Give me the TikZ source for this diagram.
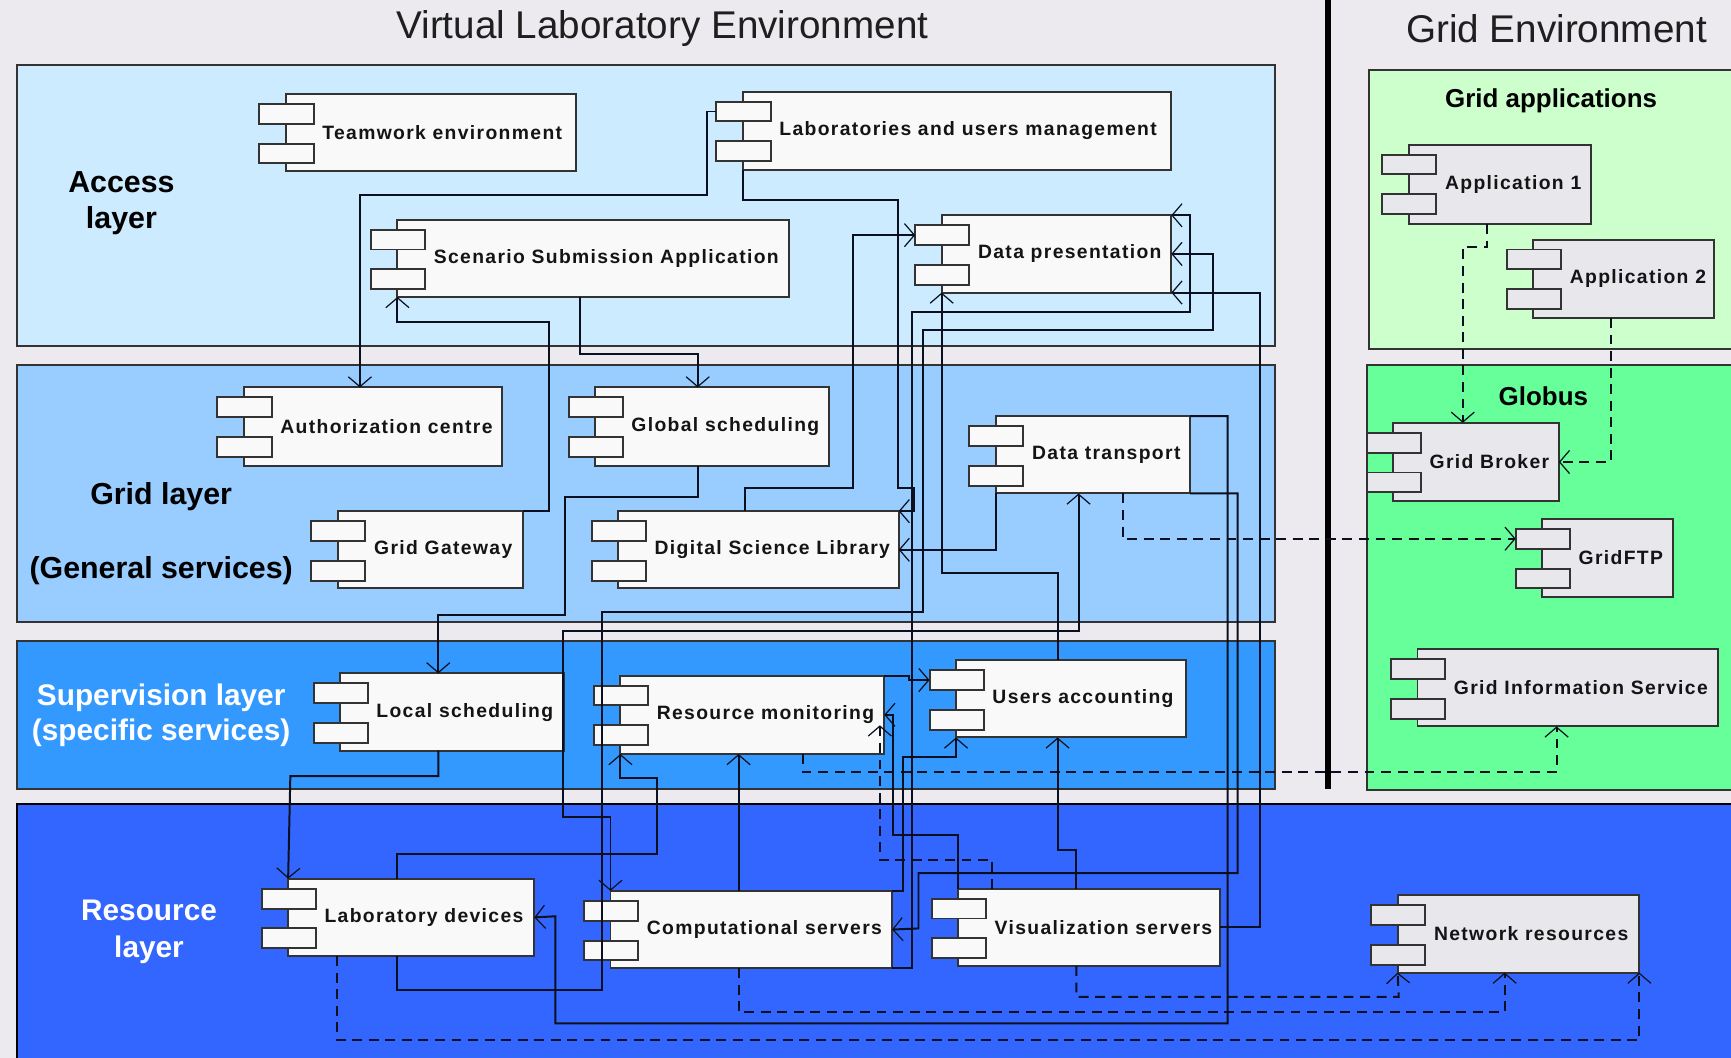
\documentclass[tikz,border=0pt]{standalone}
\usepackage{fontspec}
\setmainfont{Liberation Sans}
\newfontfamily\cfont[LetterSpace=7]{Liberation Sans}
\usetikzlibrary{arrows.meta}
\definecolor{bgc}{HTML}{ECEAEE}
\definecolor{accessc}{HTML}{CCEBFF}
\definecolor{gridc}{HTML}{99CCFF}
\definecolor{supc}{HTML}{3399FF}
\definecolor{resc}{HTML}{3366FF}
\definecolor{gappc}{HTML}{CCFFCC}
\definecolor{globc}{HTML}{66FF99}
\definecolor{boxw}{HTML}{F9F9F9}
\definecolor{boxg}{HTML}{E8E8EC}
\definecolor{edgec}{HTML}{333333}
\definecolor{linec}{HTML}{0A1020}
\tikzset{
  >={Straight Barb[length=9pt,width=21pt,line width=1.1pt]},
  layer/.style={draw=edgec,line width=1.8pt,inner sep=0pt,outer sep=0pt},
  cbody/.style={draw=edgec,line width=1.8pt,inner sep=0pt,outer sep=0pt},
  ctab/.style={draw=edgec,line width=1.8pt,inner sep=0pt,outer sep=0pt,minimum width=49pt,minimum height=18pt},
  clabel/.style={inner sep=0pt,outer sep=0pt,text=black!92,font=\cfont\bfseries\fontsize{17.5}{20}\selectfont},
  llabel/.style={inner sep=0pt,align=center,font=\bfseries\fontsize{27.5}{33}\selectfont},
  conn/.style={draw=linec,line width=1.8pt,->},
  dconn/.style={conn,dash pattern=on 9pt off 6pt},
}
\newcommand\comp[7]{%
  \node[cbody,fill=#7,minimum width={#4-#2},minimum height={#5-#3},anchor=north west] (#1) at (#2,#3) {};
  \node[ctab,fill=#7,anchor=north west] (#1t1) at ({#2-24},{#3+9}) {};
  \node[ctab,fill=#7,anchor=north west] (#1t2) at ({#2-24},{#3+45}) {};
  \node[clabel,anchor=west] (#1l) at ({#2+33},{(#3+#5)/2}) {#6};
}
\begin{document}
\begin{tikzpicture}[x=1pt,y=-1pt]
\useasboundingbox (0,0) rectangle (1568,958);
\fill[bgc] (0,0) rectangle (1568,958);
% titles
\node[font=\fontsize{35}{40}\selectfont,text=black!88] (t1) at (600,26) {Virtual Laboratory Environment};
\node[font=\fontsize{35}{40}\selectfont,text=black!88] (t2) at (1410,26) {Grid Environment};
% layers
\node[layer,fill=accessc,minimum width=1140,minimum height=254,anchor=north west] (Lacc) at (15,59) {};
\node[layer,fill=gridc,minimum width=1140,minimum height=232,anchor=north west] (Lgrid) at (15,331) {};
\node[layer,fill=supc,minimum width=1140,minimum height=134,anchor=north west] (Lsup) at (15,581) {};
\node[layer,draw=black,fill=resc,minimum width=1570,minimum height=240,anchor=north west] (Lres) at (15,728) {};
\node[layer,fill=gappc,minimum width=340,minimum height=253,anchor=north west] (Lgapp) at (1240,63) {};
\node[layer,fill=globc,minimum width=340,minimum height=385,anchor=north west] (Lglob) at (1238,331) {};
\draw[black,line width=5pt] (1203,0) -- (1203,715);
% layer labels
\node[llabel] (la1) at (110,184) {Access\\layer};
\node[llabel] (la2) at (146,450) {Grid layer};
\node[llabel] (la3) at (146,517) {(General services)};
\node[llabel,text=white,font=\bfseries\fontsize{27}{32}\selectfont] (la4) at (146,632) {Supervision layer};
\node[llabel,text=white,font=\bfseries\fontsize{27}{32}\selectfont] (la5) at (146,664) {(specific services)};
\node[llabel,text=white,font=\bfseries\fontsize{27}{33}\selectfont] (la6) at (135,844) {Resource\\layer};
\node[llabel,font=\bfseries\fontsize{23.5}{28}\selectfont] (la7) at (1405,91) {Grid applications};
\node[llabel,font=\bfseries\fontsize{23.5}{28}\selectfont] (la8) at (1398,359) {Globus};
% components
\comp{team}{259}{85}{522}{155}{Teamwork environment}{boxw}
\comp{lab}{673}{83}{1061}{154}{Laboratories and users management}{boxw}
\comp{scen}{360}{199}{715}{269}{Scenario Submission Application}{boxw}
\comp{dp}{853}{195}{1061}{265}{Data presentation}{boxw}
\comp{auth}{221}{351}{455}{422}{Authorization centre}{boxw}
\comp{gsch}{539}{351}{751}{422}{Global scheduling}{boxw}
\comp{dt}{902}{377}{1078}{447}{Data transport}{boxw}
\comp{gw}{306}{463}{474}{533}{Grid Gateway}{boxw}
\comp{dsl}{560}{463}{814}{533}{Digital Science Library}{boxw}
\comp{lsch}{308}{610}{511}{680}{Local scheduling}{boxw}
\comp{rmon}{562}{612}{801}{683}{Resource monitoring}{boxw}
\comp{uacc}{866}{598}{1074}{668}{Users accounting}{boxw}
\comp{ldev}{261}{796}{484}{866}{Laboratory devices}{boxw}
\comp{csrv}{553}{807}{808}{877}{Computational servers}{boxw}
\comp{vsrv}{868}{805}{1105}{875}{Visualization servers}{boxw}
\comp{nres}{1266}{811}{1485}{881}{Network resources}{boxg}
\comp{app1}{1276}{131}{1441}{203}{Application 1}{boxg}
\comp{app2}{1389}{217}{1553}{288}{Application 2}{boxg}
\comp{gbrk}{1262}{383}{1412}{454}{Grid Broker}{boxg}
\comp{gftp}{1397}{470}{1515}{541}{GridFTP}{boxg}
\comp{gis}{1284}{588}{1556}{658}{Grid Information Service}{boxg}
\coordinate (rmonin) at (797,657);
% solid connectors
\draw[conn] (labt1.west) -| (640,177) -| (auth.north -| 326,0);
\draw[conn] (lab.south west) |- (813,181) |- (828,442) |- (dsl.north east);
\draw[conn] (scen.south -| 525,0) |- (632,321) -- (gsch.north -| 632,0);
\draw[conn] (gw.north east) -| (497,292) -| (scen.south west);
\draw[conn] (gsch.south -| 632,0) |- (512,450) |- (397,557) -- (lsch.north -| 397,0);
\draw[conn] (dsl.north -| 675,0) |- (773,442) |- (dpt1.west);
\draw[conn] (vsrv.east) -| (1141,265) -- (dp.south east);
\draw[conn] (ldev.south -| 360,0) |- (545,897) |- (836,554) |- (1099,299) |- (dp.east);
\draw[conn] (csrv.south east) -| (826,283) -| (1078,195) -- (dp.north east);
\draw[conn] (uacc.north -| 958,0) |- (853,519) -- (dp.south west);
\draw[conn] (dt.south west) |- (dsl.east);
\draw[conn,<->] (csrv.north west) |- (510,740) |- (977,572) -- (dt.south -| 977,0);
\draw[conn] (lsch.south -| 397,0) |- (263,703) -- (ldev.north west);
\draw[conn] (ldev.north -| 360,0) |- (595,774) |- (562,705) -- (rmon.south west);
\draw[conn] (csrv.north -| 669,0) -- (rmon.south -| 669,0);
\draw[conn] (dt.north east) -| (1112,927) -| (503,830) -- (ldev.east);
\draw[conn] (dt.south east) -| (1121,791) -| (832,841) -- (csrv.east);
\draw[conn] (vsrv.north -| 975,0) |- (958,770) -- (uacc.south -| 958,0);
\draw[conn] (csrv.north east) -| (818,686) -| (uacc.south west);
\draw[conn] (vsrv.north west) |- (809,756) |- (rmon.east);
\draw[conn] (rmon.north east) -| (823,616) -- (uacct1.west);
% dashed connectors
\draw[dconn] (rmon.south -| 727,0) |- (1410,699) -- (gis.south -| 1410,0);
\draw[dconn] (dt.south -| 1017,0) |- (gftpt1.west);
\draw[dconn] (app1.south -| 1347,0) |- (1325,224) -- (gbrk.north -| 1325,0);
\draw[dconn] (app2.south -| 1459,0) |- (gbrk.east);
\draw[dconn] (vsrv.north -| 899,0) |- (797,779) -- (rmonin);
\draw[dconn] (ldev.south -| 305,0) |- (1485,942) -- (nres.south east);
\draw[dconn] (csrv.south -| 669,0) |- (1363,917) -- (nres.south -| 1363,0);
\draw[dconn] (vsrv.south -| 975,0) |- (1267,903) -- (nres.south west);
\end{tikzpicture}
\end{document}
